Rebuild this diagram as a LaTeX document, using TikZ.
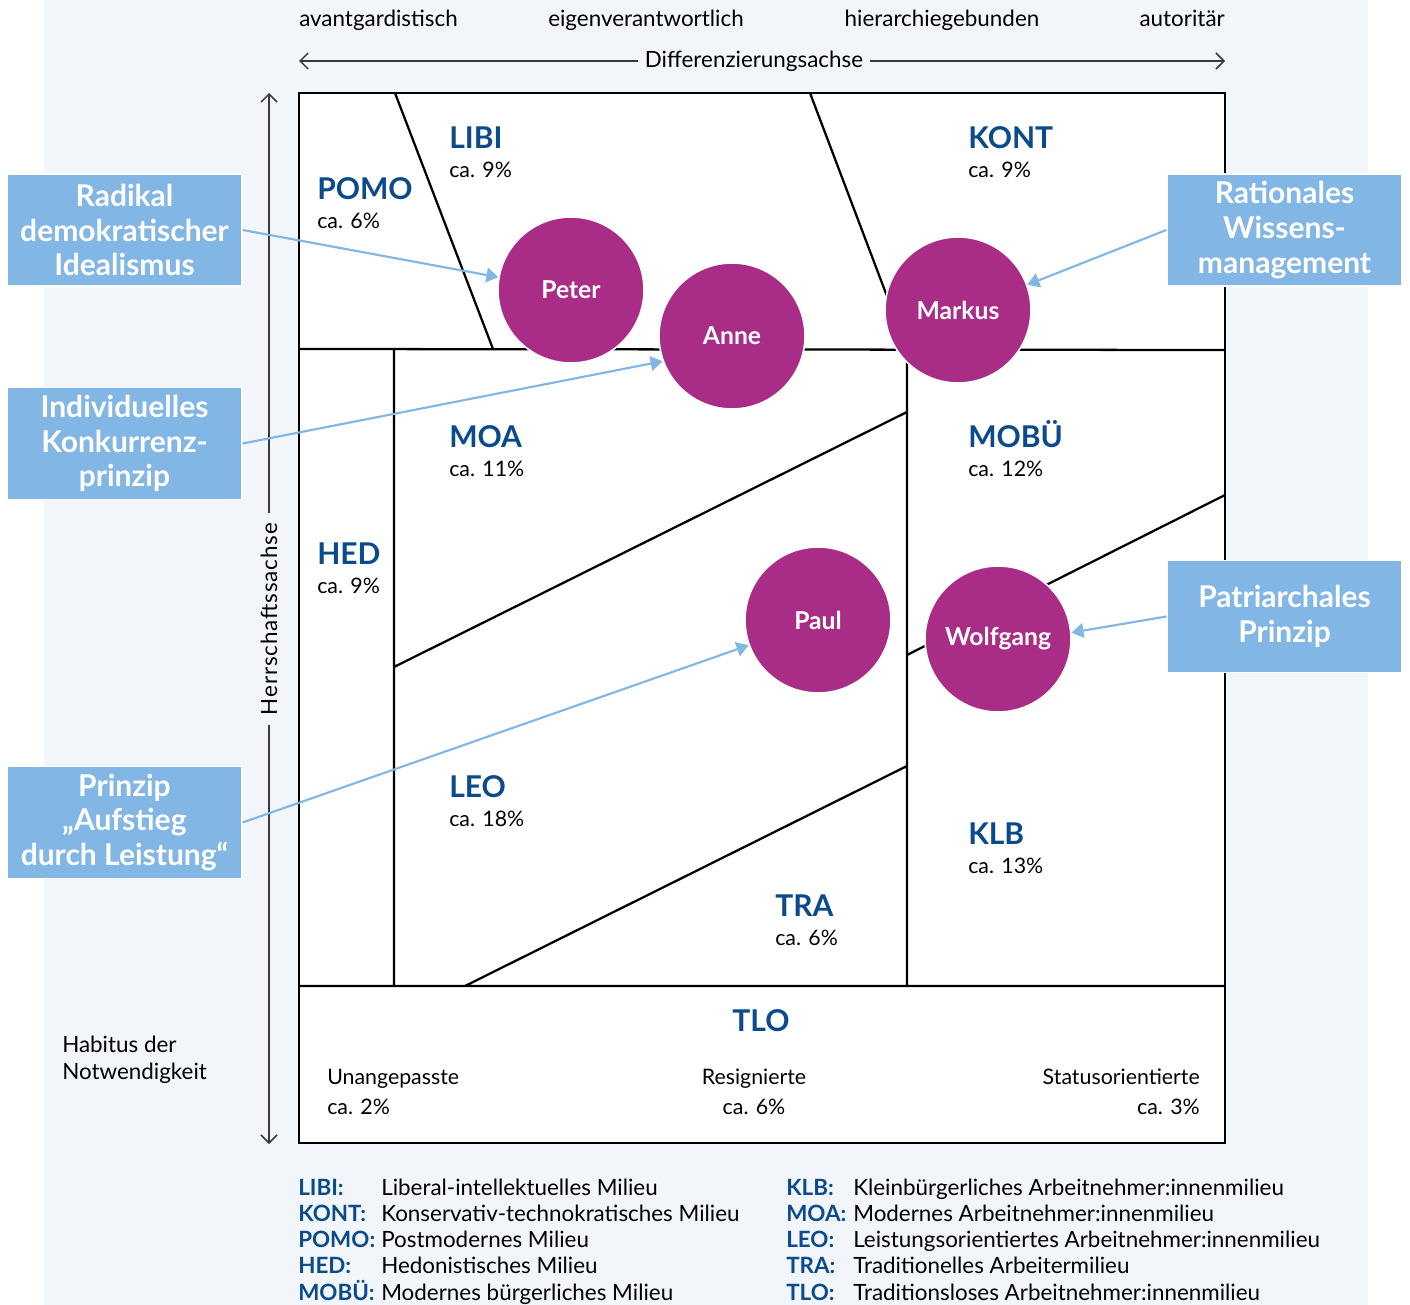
\documentclass[tikz,border=0pt]{standalone}
\usepackage{fontspec}
\setmainfont{Lato}
\usetikzlibrary{arrows.meta}
\definecolor{bgblue}{HTML}{F2F6FB}
\definecolor{boxblue}{HTML}{82B6E4}
\definecolor{navy}{HTML}{0B4A8B}
\definecolor{berry}{HTML}{A92D86}
\definecolor{axisgray}{HTML}{3A3A3A}

\begin{document}
\begin{tikzpicture}[x=0.75pt,y=-0.75pt,
  grid/.style={line width=1.7pt,line join=miter},
  milieu/.style={anchor=base west,inner sep=0pt,text=navy,font=\fontsize{22.5}{27}\selectfont\bfseries},
  share/.style={anchor=base west,inner sep=0pt,font=\fontsize{16}{19}\selectfont},
  plain/.style={inner sep=0pt,font=\fontsize{16.8}{20}\selectfont},
  key/.style={anchor=base west,inner sep=0pt,text=navy,font=\fontsize{16.8}{20}\selectfont\bfseries},
  person/.style={circle,fill=berry,draw=white,line width=1.2pt,minimum size=109.5pt,inner sep=0pt,text=white,font=\fontsize{18.5}{22}\selectfont\bfseries},
  callout/.style={fill=boxblue,draw=white,line width=1.2pt,minimum width=176pt,minimum height=84pt,align=center,text=white,font=\fontsize{22.5}{26}\selectfont\bfseries},
  hint/.style={boxblue,line width=1.6pt,-{Triangle[length=9pt,width=11pt]}},
  axis/.style={axisgray,line width=1.1pt,-{Straight Barb[length=6pt,width=12pt]}}]
\useasboundingbox (0,0) rectangle (1410,1305);
\fill[bgblue] (44,0) rectangle (1368,1305);
\foreach \n/\x/\y in {TL/299/93,TR/1225/93,BR/1225/1143,BL/299/1143,ML/299/349,MR/1225/350,
  UL/299/986,UR/1225/986,P1/395/93,P2/493/349,K1/810/93,K2/907/349,H1/394/349,H2/394/986,
  V2/907/986,A1/394/667,A2/907/412,B1/907/655,B2/1225/495,C1/465/986,C2/907/766,
  DL/299/61,DR/1225/61,HT/269/93,HB/269/1144}
  \coordinate (\n) at (\x,\y);
\filldraw[grid,fill=white] (TL)--(TR)--(BR)--(BL)--cycle;
\draw[grid] (ML)--(MR)(UL)--(UR)(P1)--(P2)(K1)--(K2)--(V2)(H1)--(H2)
  (A1)--(A2)(B1)--(B2)(C1)--(C2);
\node[plain,inner xsep=5pt] (diff) at (754,61) {Differenzierungsachse};
\draw[axis] (diff)--(DL);
\draw[axis] (diff)--(DR);
\node[plain,rotate=90,inner xsep=7pt] (herr) at (269,619) {\addfontfeatures{LetterSpace=4}Herrschaftssachse};
\draw[axis] (herr)--(HT);
\draw[axis] (herr)--(HB);
\node[plain,anchor=base west] (avant) at (299,27) {avantgardistisch};
\node[plain,anchor=base] (eigen) at (646,27) {eigenverantwortlich};
\node[plain,anchor=base] (hier) at (942,27) {hierarchiegebunden};
\node[plain,anchor=base east] (auto) at (1225,27) {autoritär};
\foreach \n/\t/\p/\x/\y in {pomo/POMO/6/317/200,libi/LIBI/9/449/149,kont/KONT/9/968/149,
  moa/MOA/11/449/447,mobue/MOBÜ/12/968/447,hed/HED/9/317/564,leo/LEO/18/449/797,
  klb/KLB/13/968/844,tra/TRA/6/775/916}{
  \node[milieu] (\n) at (\x,\y) {\t};
  \node[share] (\n-p) at (\x,{\y+29}) {ca. \p\%};
}
\node[milieu,anchor=base] (tlo) at (761,1031) {TLO};
\node[share] (unan) at (327,1084) {Unangepasste};
\node[share] (unan-p) at (327,1114) {ca. 2\%};
\node[share,anchor=base] (resi) at (754,1084) {Resignierte};
\node[share,anchor=base] (resi-p) at (754,1114) {ca. 6\%};
\node[share,anchor=base east] (stat) at (1200,1084) {Statusorientierte};
\node[share,anchor=base east] (stat-p) at (1200,1114) {ca. 3\%};
\node[plain,anchor=base west] (hab) at (62,1052) {Habitus der};
\node[plain,anchor=base west] (notw) at (62,1079) {Notwendigkeit};
\foreach \t/\d [count=\i from 0] in {LIBI/Liberal-intellektuelles Milieu,
  KONT/Konservativ-technokratisches Milieu,POMO/Postmodernes Milieu,
  HED/Hedonistisches Milieu,MOBÜ/Modernes bürgerliches Milieu}{
  \node[key] (keyl\i) at (298,{1195+26.3*\i}) {\t:};
  \node[plain,anchor=base west] (descl\i) at (381,{1195+26.3*\i}) {\d};
}
\foreach \t/\d [count=\i from 0] in {KLB/Kleinbürgerliches Arbeitnehmer:innenmilieu,
  MOA/Modernes Arbeitnehmer:innenmilieu,LEO/Leistungsorientiertes Arbeitnehmer:innenmilieu,
  TRA/Traditionelles Arbeitermilieu,TLO/Traditionsloses Arbeitnehmer:innenmilieu}{
  \node[key] (keyr\i) at (786,{1195+26.3*\i}) {\t:};
  \node[plain,anchor=base west] (descr\i) at (853,{1195+26.3*\i}) {\d};
}
\node[person] (peter) at (571,290) {Peter};
\node[person] (anne) at (732,336) {Anne};
\node[person] (markus) at (958,310) {Markus};
\node[person] (paul) at (818,620) {Paul};
\node[person] (wolf) at (998,639) {Wolfgang};
\node[callout] (radikal) at (124.5,230) {Radikal\\demokratischer\\Idealismus};
\node[callout] (indiv) at (124.5,443.5) {Individuelles\\Konkurrenz-\\prinzip};
\node[callout] (aufstieg) at (124.5,822.5) {Prinzip\\„Aufstieg\\durch Leistung“};
\node[callout] (ration) at (1284.5,230) {Rationales\\Wissens-\\management};
\node[callout] (patri) at (1284.5,616.5) {Patriarchales\\Prinzip};
\draw[hint] (radikal.east)--(peter.170);
\draw[hint] (indiv.east)--(anne.200);
\draw[hint] (aufstieg.east)--(paul.200);
\draw[hint] (ration.west)--(markus.20);
\draw[hint] (patri.west)--(wolf.5);
\end{tikzpicture}
\end{document}
